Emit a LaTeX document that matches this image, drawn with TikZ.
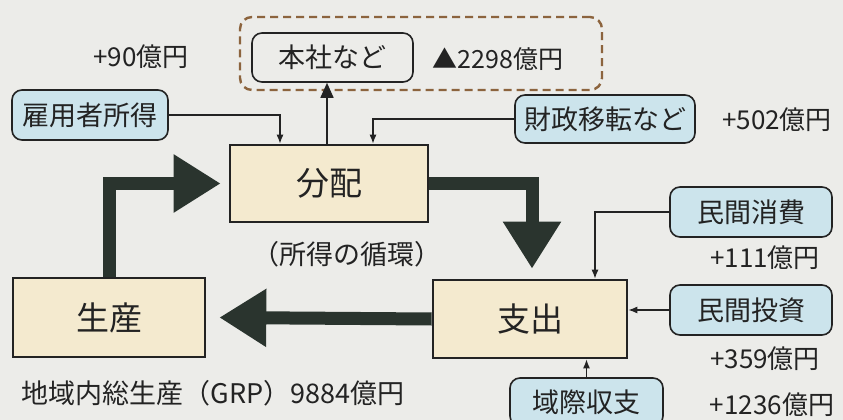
\documentclass[tikz,border=0pt]{standalone}
\usepackage{fontspec}
\setmainfont{Noto Sans CJK JP}
\usetikzlibrary{arrows.meta}
\definecolor{bg}{RGB}{236,236,233}
\definecolor{beige}{RGB}{244,234,207}
\definecolor{lblue}{RGB}{204,228,236}
\definecolor{brownd}{RGB}{140,100,62}
\definecolor{darkarr}{RGB}{42,52,46}
\definecolor{ink}{RGB}{35,35,35}
\tikzset{
  mainbox/.style={draw=ink, line width=2.6pt, fill=beige, inner sep=0pt, font=\fontsize{33}{33}\selectfont, text=ink},
  bluebox/.style={draw=ink, line width=1.6pt, fill=lblue, rounded corners=10pt, inner sep=0pt, font=\fontsize{27}{27}\selectfont, text=ink},
  plainbox/.style={draw=ink, line width=1.6pt, rounded corners=10pt, inner sep=0pt, font=\fontsize{27}{27}\selectfont, text=ink},
  val/.style={inner sep=0pt, font=\fontsize{26}{26}\selectfont, text=ink},
  big/.style={draw=darkarr, line width=13pt, line join=miter, -{Triangle[length=47pt,width=55pt]}},
  thin/.style={draw=ink, line width=1.3pt, -{Latex[length=9pt,width=7pt]}},
}
\begin{document}
\begin{tikzpicture}[x=1pt,y=-1pt]
\useasboundingbox (0,0) rectangle (843,420);
\clip (0,0) rectangle (843,420);
\fill[bg] (0,0) rectangle (843,420);

% group dashed box
\node[draw=brownd, line width=2.4pt, dash pattern=on 8pt off 5pt, rounded corners=12pt, minimum width=362pt, minimum height=73pt, inner sep=0pt] (grp) at (421,53.5) {};
\node[plainbox, minimum width=161pt, minimum height=49pt] (honsha) at (332.5,57.5) {本社など};
\node[val, font=\fontsize{25}{25}\selectfont] (v2298) at (498,59) {▲2298億円};
\node[val] (v90) at (141,57) {+90億円};

\node[bluebox, minimum width=156pt, minimum height=50pt] (koyo) at (90,115) {雇用者所得};
\node[bluebox, minimum width=180pt, minimum height=48pt] (zaisei) at (605,119) {財政移転など};
\node[val] (v502) at (777,120) {+502億円};

\node[mainbox, minimum width=198pt, minimum height=77pt] (bunpai) at (329,183.5) {分配};
\node[mainbox, minimum width=192pt, minimum height=79pt] (seisan) at (109,317.5) {生産};
\node[mainbox, minimum width=194pt, minimum height=78pt] (shishutsu) at (530,319) {支出};

\node[inner sep=0pt, font=\fontsize{27}{27}\selectfont, text=ink] (junkan) at (347,254) {（所得の循環）};

\node[bluebox, minimum width=162pt, minimum height=50pt] (shohi) at (751,212) {民間消費};
\node[val] (v111) at (765,258) {+111億円};
\node[bluebox, minimum width=162pt, minimum height=50pt] (toushi) at (751,310) {民間投資};
\node[val] (v359) at (765,359) {+359億円};
\node[bluebox, minimum width=153pt, minimum height=48pt] (iki) at (586.5,402) {域際収支};
\node[val] (v1236) at (772,405) {+1236億円};

\node[inner sep=0pt, font=\fontsize{27}{27}\selectfont, text=ink] (grp9884) at (213,393) {地域内総生産（GRP）9884億円};

% big circulation arrows
\draw[big] (seisan.north) |- ([xshift=-8pt]bunpai.west);
\draw[big] (bunpai.east) -| ([yshift=10pt,xshift=2pt]shishutsu.north);
\draw[big] (shishutsu.west) -- ([xshift=13pt]seisan.east);

% thin arrows
\draw[thin] (koyo.east) -| ([xshift=-49pt]bunpai.north);
\draw[thin] (zaisei.west) -| ([xshift=44pt]bunpai.north);
\draw[draw=ink, line width=1.6pt, -{Triangle[length=15pt,width=13pt]}] ([xshift=-2pt]bunpai.north) -- ([xshift=-2pt]bunpai.north |- honsha.south);
\draw[thin] (shohi.west) -| ([xshift=65pt]shishutsu.north);
\draw[thin] (toushi.west) -- (toushi.west -| shishutsu.east);
\draw[thin] (iki.north) -- (iki.north |- shishutsu.south);
\end{tikzpicture}
\end{document}
